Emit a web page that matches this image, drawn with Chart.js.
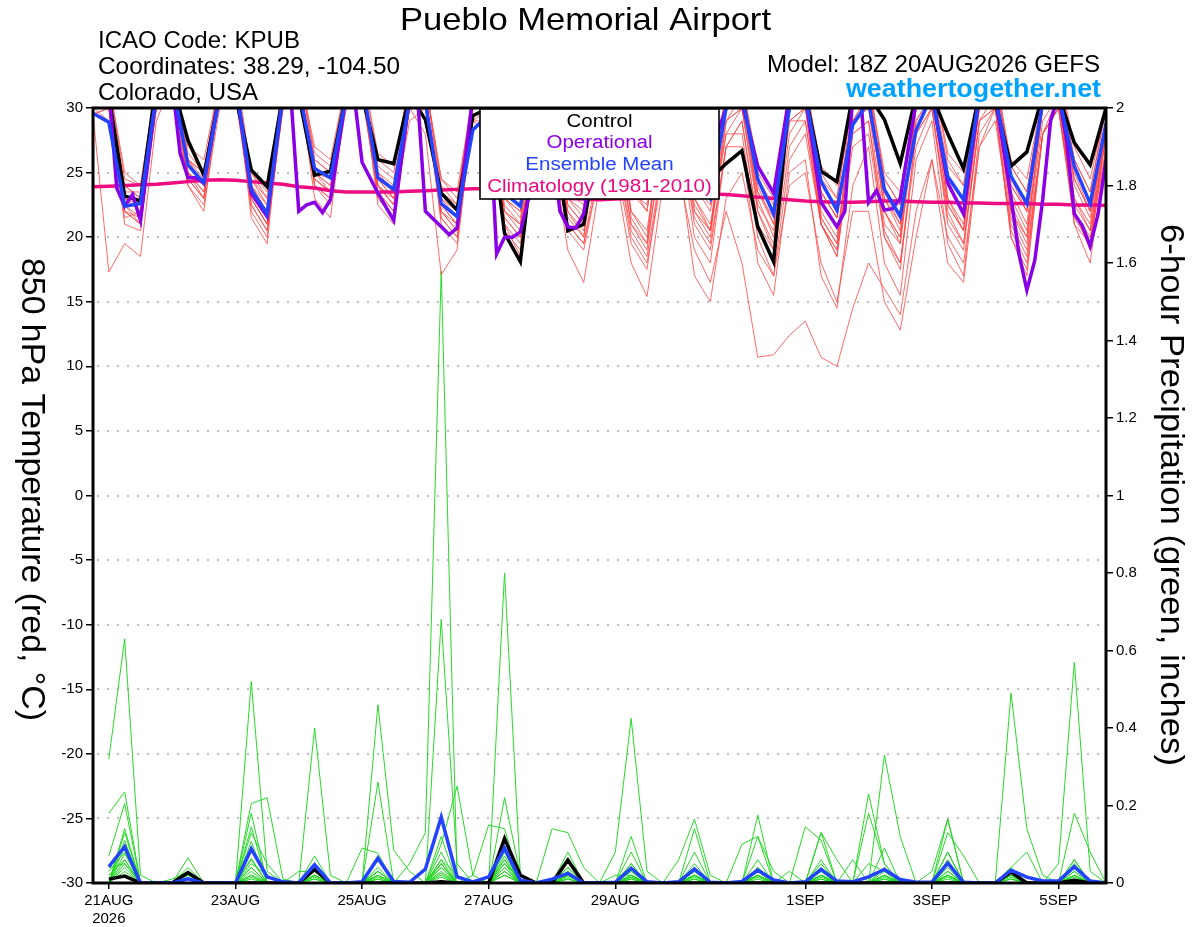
<!DOCTYPE html>
<html><head><meta charset="utf-8">
<script src="https://cdn.jsdelivr.net/npm/chart.js@4.4.1/dist/chart.umd.min.js"></script>
<style>html,body{margin:0;padding:0;background:#fff;overflow:hidden}#c{display:block}</style>
</head><body>
<canvas id="c" width="1200" height="927" style="width:1200px;height:927px"></canvas>
<script>
// ---------- axis / tick data ----------
const xTickSteps = [1, 9, 17, 25, 33, 45, 53, 61];           // 6-hour steps from 18Z 20AUG2026
const xTickLabels = [['21AUG', '2026'], '23AUG', '25AUG', '27AUG', '29AUG', '1SEP', '3SEP', '5SEP'];
const tempTicks = [-30, -25, -20, -15, -10, -5, 0, 5, 10, 15, 20, 25, 30];
const gridTemps = [-25, -20, -15, -10, -5, 0, 5, 10, 15, 20, 25];
const precipTicks = [0, 0.2, 0.4, 0.6, 0.8, 1, 1.2, 1.4, 1.6, 1.8, 2];
const precipTickLabels = ['0', '0.2', '0.4', '0.6', '0.8', '1', '1.2', '1.4', '1.6', '1.8', '2'];

// ---------- 850 hPa temperature (°C), 6-hourly, step 0 = 18Z 20AUG ----------
const meanTemp = [29.6, 28.9,22.4,22.6,31, 32,25.6,24.2,31, 32,23.7,21.8,31, 31.5,25.3,24.6,31, 32,24.6,23.7,30.5, 30.5,22.6,21.6,28.3, 29.5,23.4,22.4,29, 30,23.5,23.0,29, 30,24,23.5,29, 30,25,23.0,30, 31,24.5,21.8,30, 31,24.3,22.1,28.7, 30.5,23.7,21.6,28.3, 31,24.7,22.9,31, 31,24.7,22.6,30.5, 31,25.5,22.6,28.8];
const controlTemp = [31, 31,23.2,22.8,32, 32,27.5,24.8,31, 31,25.2,23.9,31, 31,24.8,25.1,31, 31,26.0,25.7,31, 29.1,23.4,22.1,29.4, 30,20.3,18.1,28.5, 29,20.5,21.0,28, 29,24,23.5,28, 27,26,24.5,25.7, 26.7,20.8,18.1,31, 31,25.1,24.3,31, 31,29.1,25.7,31, 31,28.0,25.3,31, 30.5,25.5,26.6,31, 31,27.3,25.6,30];
const opSteps = [0,1,1.5,2,2.5,3,4,5,5.5,6,6.5,7,8,9,10,11,12,12.5,13,13.5,14,14.5,15,16,16.5,17,18,19,20,20.5,21,21.5,22,22.5,23,24,25,25.5,26,26.5,27,27.5,28,29,29.5,30,30.5,31,32,33,34,35,36,37,38,39,40,41,42,43,44,45,46,47,47.5,48,48.5,49,49.5,50,50.5,51,52,53,54,55,56,57,58,58.5,59,59.5,60,60.5,61,61.5,62,62.5,63,63.5,64];
const opTemps = [30.5,31.5,23.8,22.4,23.3,21.3,31,32,26.5,24.6,24.6,24.2,31,32,23.4,21.6,31,31,22.0,22.5,22.7,21.9,22.9,31,31,25.8,23.4,21.3,31,31,22.0,21.4,20.8,20.2,20.7,31,31,18.7,20.0,20.0,20.4,22.9,29,27,22,20.8,20.7,21.8,29,30,27,26,29,30,27,26.5,30,30.5,25.5,23.4,31,31,22.7,20.8,22,31,31,22.7,23.6,22.1,22.2,23,30.5,31,24.2,21.8,31,31,23.1,18.7,15.9,18.2,22.9,29,31,27.6,21.8,20.9,19.3,21.8,26.0];
const climTemp = [23.9, 23.95,24.0,24.05,24.1, 24.2,24.3,24.4,24.45, 24.4,24.3,24.2,24.1, 23.9,23.8,23.6,23.5, 23.5,23.5,23.5,23.55, 23.6,23.65,23.7,23.75, 23.75,23.7,23.6,23.4, 23.2,23.0,22.95,22.9, 22.95,23.0,23.05,23.1, 23.2,23.3,23.35,23.3, 23.2,23.1,23.0,22.9, 22.8,22.75,22.7,22.7, 22.75,22.8,22.8,22.75, 22.7,22.7,22.65,22.65, 22.6,22.6,22.6,22.55, 22.55,22.5,22.5,22.45];

// ensemble members (temperature)
const memT01 = [29.5, 17.3,19.5,18.5,29, 32,24,22,31, 33,22,20,31, 32,23,21.5,31, 32,22.5,21,30, 31,21,19.5,29, 30,20.5,19,28, 29,22,20,29, 31,21.5,19.5,30, 31,23,20.5,31, 32,22,19,30, 31,21.5,19.5,30, 32,22,19.5,30, 33,23,20.5,31, 32,22.5,20,30, 31,22,19,28];
const memT02 = [30.5, 30,21,20.5,31, 33,25,23,31, 32,21.5,19.5,31, 33,24,22.5,31, 32,23,21.5,30, 28,17.1,19,30, 31,21,19.5,30, 30,23,21.5,31, 32,24,22,31, 32,25,23,31, 32,24,21,31, 33,23.5,21.5,31, 32,23,20.5,30, 32,24,22,31, 33,24.5,22,31, 33,25,22,29];
const memT03 = [30, 31,23,22,31, 32,26,24.5,31, 32,24,22,31, 32,25,24,31, 32,24.5,23,30, 31,23,22,30, 30,22,21,27, 26,21,19.5,25, 25,18,15.4,24, 26,17,15,23, 25,19,17,26, 28,21,19,29, 31,22,20,30, 32,23,21,31, 32,23.5,21,31, 32,24,21.5,29];
const memT04 = [30, 30.5,22,21,30, 32,25,23.5,31, 32,23,21,31, 32,24.5,23.5,31, 31,24,22.5,30, 31,22,21,30, 30,23,21.5,29, 29,22,20.5,27, 27,20,18,25, 25,19,16.5,22, 18,10.7,10.9,12.4, 13.5,10.7,10,14.5, 18,16,14,22, 26,20,18,27, 29,21,18.5,28, 30,22,20,28];
const memT05 = [31, 31,24,23,31, 33,26,25,32, 32,24.5,23,31, 33,26,25,31, 32,25,24,31, 32,23.5,22.5,31, 31,24,23,30, 31,24,23,30, 31,24.5,23,30, 30,23,21,28, 28,20,17,24, 25,18,15,22, 22,15,12.8,20, 26,18,16.5,27, 30,20,17.5,28, 31,21,19.5,29];
const memT06 = [31, 32,25,24,32, 33,27,26,32, 33,25,23.5,32, 33,27,26,32, 33,26.5,25.5,32, 32,24.5,23.5,31, 32,25,24,31, 32,25,24.5,31, 32,26,25,31, 32,26,24.5,31, 32,25.5,23.5,31, 32,25.5,24,31, 32,25,23.5,31, 33,26.5,25,32, 32,26,24.5,31, 33,27,24.5,30];
const memT07 = [30, 29,22.5,21.5,30, 32,24.5,23,31, 31,23,21,30, 32,24,23,31, 32,24,22.5,30, 30,22,20.5,30, 31,22,21,30, 30,22.5,21,29, 29,21,19,28, 30,22,20,29, 31,23,20,30, 31,22,20,29, 30,21,19.5,29, 31,22.5,20.5,30, 31,22,20,30, 31,22.5,20.5,28];
const memT08 = [30, 30.5,24,23,31, 32,25.5,24,31, 32,24,22.5,31, 32,25.5,24.5,31, 31,24,23,30, 30,22.5,21.5,29, 28,21.5,20,26, 27,20.5,19,25, 28,21,19.5,27, 29,22,20.5,28, 30,22.5,20.5,29, 29,21,19,27, 28,20,18,27, 30,21.5,19.5,29, 31,22,19.5,29, 31,23,20.5,29];
const memT09 = [30.5, 31,23.5,23.5,31, 33,26.5,25,32, 32,24.5,22.5,31, 33,26,25,32, 32,25.5,24.5,31, 32,24,22.5,31, 31,24,23,31, 31,24.5,23.5,31, 32,25,24,31, 32,25.5,24,31, 32,25,23,31, 32,24.5,23,31, 32,24.5,22.5,31, 32,25.5,24,31, 32,25.5,23.5,31, 32,26,23.5,30];
const memT10 = [29.5, 30,21.5,22,30, 32,25,23.5,31, 31,22.5,20.5,30, 32,24.5,23.5,31, 31,23.5,22,30, 31,21.5,20,30, 30,21,18.5,29, 30,21.5,20,29, 30,22,20,29, 30,22.5,20.5,29, 30,22,19.5,29, 30,21,18.5,28, 29,20,17.5,28, 30,21,19,29, 30,20.5,18,28, 30,21.5,19.5,28];
const memT11 = [30, 31,22.5,21,31, 32,26,24,31, 32,23.5,21.5,31, 32,25,24,31, 32,25,23.5,31, 31,23,21.5,30, 31,23,22,30, 31,23.5,22.5,30, 31,23.5,22,30, 31,24,22.5,30, 31,23.5,21.5,30, 31,23.5,21.5,30, 31,23.5,21,30, 31,24,22,30, 31,24,22,30, 32,24.5,22,29];
const memT12 = [30.5, 31,23,22,31, 32,25,24,31, 32,23,21,31, 32,25,23.5,31, 32,24.5,23,30, 31,22.5,21,30, 30,22,20.5,28, 27,19,16.5,24, 26,19.5,17.5,26, 28,20,18,27, 29,21,19,28, 30,21.5,19.5,29, 31,22,20,30, 31,22.5,20.5,30, 31,23,20.5,30, 31,23,21,29];
const memT13 = [30, 30,22,21.5,30, 32,24.5,23,31, 32,23.5,22,31, 32,24.5,23.5,31, 32,24,22.5,30, 31,22,20.5,30, 30,22.5,21,29, 30,22.5,21,29, 30,22,20.5,29, 29,21,19,27, 27,18,15.5,25, 26,17,14.5,24, 27,18,15.5,26, 29,19.5,17,28, 30,20,17,28, 30,21,18,27];
const memT14 = [31, 32,24.5,24,32, 33,26,25,32, 33,25,23,32, 33,26.5,25.5,32, 33,26,25,32, 32,24.5,23,31, 32,24.5,23.5,31, 32,25,24,31, 32,25.5,24.5,31, 32,25,23.5,31, 32,24.5,22.5,31, 32,25,23,31, 32,24.5,22.5,31, 33,26,24,32, 33,25.5,23.5,31, 33,26,23.5,30];
const memT15 = [30, 30.5,23,22.5,31, 32,25.5,24,31, 32,23.5,21.5,31, 32,25,24.5,31, 32,24.5,23.5,30, 31,22.5,21,30, 30,23,22,29, 30,23,22,29, 30,23.5,22.5,29, 30,24,22,29, 30,23.5,21,29, 30,23.5,21.5,29, 30,23,21,29, 31,24,22,30, 31,24,22,30, 31,24.5,22,28];
const memT16 = [29.5, 30,22,21,30, 31,24,22.5,30, 31,22.5,20.5,30, 31,24,23,30, 31,23.5,22,29, 30,21.5,20,29, 29,21.5,20,27, 27,21,19.5,26, 27,20.5,18.5,26, 28,21.5,19.5,27, 29,21,18,27, 29,21,18.5,28, 29,20.5,18,28, 30,22,19.5,29, 30,21.5,19,28, 30,22,19.5,27];

// ---------- 6-hour precipitation (inches) ----------
const meanPrecip = [null, .042,.094,0,0, 0,.011,0,0, 0,.088,.016,.003, 0,.047,0,0, .003,.064,.004,.002, .036,.17,.016,.003, .016,.09,.007,0, .01,.025,0,0, .002,.038,.003,0, .003,.036,.002,0, .004,.033,.008,0, .003,.035,.005,.003, .016,.035,.009,.002, .002,.051,.002,0, 0,.033,.015,.005, .005,.042,.005,0];
const controlPrecip = [null, .01,.018,0,0, 0,.027,0,0, 0,0,0,0, 0,.035,0,0, 0,0,0,0, 0,.003,0,0, 0,.115,.02,0, 0,.059,0,0, 0,0,0,0, 0,0,0,0, 0,0,0,0, 0,0,0,0, 0,0,0,0, 0,0,0,0, 0,.028,0,0, 0,.007,0,0];
const memP01 = [null, .02,.06,0,0, 0,0,0,0, 0,.04,0,0, 0,.03,0,0, 0,.06,0,.05, .13,1.58,.02,0, 0,.06,0,0, 0,.04,0,0, 0,.05,0,0, 0,.08,0,0, 0,.06,0,0, 0,.04,0,0, 0,.09,0,0, 0,.08,0,0, 0,.04,0,0, 0,.06,0,0];
const memP02 = [null, .32,.63,.02,0, 0,.02,0,0, 0,.13,.05,0, 0,.05,0,0, 0,.26,0,0, 0,.68,.05,0, 0,.22,.02,0, 0,.08,0,0, 0,.12,0,0, 0,.14,0,0, 0,.12,0,0, 0,.13,0,0, .23,.05,0,0, 0,.165,0,0, 0,.03,0,0, 0,.18,.08,0];
const memP03 = [null, .18,.235,0,0, 0,.065,0,0, 0,.52,.03,0, 0,.02,0,0, 0,.03,0,0, 0,.05,0,0, 0,.80,.02,0, 0,.02,0,0, 0,.05,0,0, 0,.02,0,0, 0,.03,0,0, 0,.02,0,0, 0,.01,0,0, 0,.02,0,0, 0,.02,0,0, 0,.04,0,0];
const memP04 = [null, .07,.205,0,0, 0,.04,0,0, 0,.205,.22,.01, 0,.40,.02,0, 0,.46,.085,.03, 0,.12,0,0, 0,.08,0,0, .14,.13,.04,0, 0,.08,0,0, 0,.02,0,0, 0,.02,0,0, 0,.13,.06,0, .18,.05,0,0, 0,.02,0,0, 0,.02,0,0, 0,.06,0,0];
const memP05 = [null, 0,.14,0,0, 0,.02,0,0, 0,.18,0,0, 0,.07,0,0, .09,.077,0,0, 0,.10,.25,.02, 0,.04,0,0, 0,.06,0,0, .08,.425,.03,0, 0,.02,0,0, 0,.04,0,0, 0,.02,0,0, 0,.33,.12,0, 0,.02,0,0, 0,.02,0,0, 0,.02,0,0];
const memP06 = [null, 0,.13,0,0, 0,0,0,0, 0,.145,0,0, .03,.03,0,0, 0,.06,0,0, 0,.08,0,.02, .15,.14,0,0, 0,.04,0,0, 0,.02,0,0, .06,.165,.02,0, 0,.02,0,0, .145,.11,0,.06, 0,0,0,0, 0,.13,.07,0, 0,.49,.14,.02, 0,.04,0,0];
const memP07 = [null, 0,.11,0,0, 0,0,0,0, 0,.107,0,0, 0,.02,0,0, 0,.03,0,0, 0,.06,0,0, 0,.06,0,0, 0,.02,0,0, 0,.02,0,0, 0,.04,0,0, .10,.12,.03,0, 0,.05,0,0, 0,.04,0,0, 0,.08,0,0, 0,.04,.08,0, .05,.57,.03,0];
const memP08 = [null, 0,.094,0,0, 0,0,0,0, 0,.064,0,0, 0,.02,0,0, 0,.03,0,0, 0,.05,0,0, 0,.05,0,0, 0,.02,0,0, 0,.04,0,0, 0,.03,0,0, 0,.175,0,.03, 0,.03,0,0, .05,.03,0,0, .03,.165,0,0, 0,.03,0,0, 0,.04,0,0];
const memP09 = [null, 0,.076,0,0, 0,0,0,0, 0,.04,0,0, 0,.01,0,0, 0,.02,0,0, 0,.04,0,0, 0,.04,0,0, 0,.02,0,0, 0,.03,0,0, 0,.02,0,0, 0,.02,0,0, 0,.03,0,0, 0,.02,0,0, 0,.04,0,0, 0,.02,0,0, 0,.03,0,0];
const memP10 = [null, 0,.06,0,0, 0,0,0,0, 0,.03,0,0, 0,0,0,0, 0,.02,0,0, 0,.04,0,0, 0,.03,0,0, 0,.01,0,0, .02,.02,0,0, 0,.02,0,0, 0,.02,0,0, 0,.02,0,0, 0,.02,0,0, 0,.03,0,0, 0,.01,0,0, 0,.02,0,0];
const memP11 = [null, .04,.05,0,0, 0,.02,0,0, 0,.02,0,0, 0,.01,0,0, 0,.015,0,0, 0,.03,0,0, 0,.03,0,0, 0,.02,0,0, 0,.01,0,0, 0,.015,0,0, 0,.01,0,0, 0,.02,0,0, 0,.015,0,0, 0,.02,0,0, 0,0,0,0, 0,.015,0,0];
const memP12 = [null, 0,.04,0,0, 0,0,0,0, 0,.015,0,0, 0,0,0,0, 0,.01,0,0, 0,.025,0,0, 0,.02,0,0, 0,0,0,0, 0,.01,0,0, 0,.01,0,0, 0,0,0,0, 0,.01,0,0, 0,0,0,0, 0,.01,0,0, 0,0,0,0, 0,.01,0,0];
const memP13 = [null, 0,.03,0,0, .01,.03,0,0, 0,.02,0,0, 0,.015,0,0, 0,0,0,0, 0,.02,0,0, 0,.05,.01,0, 0,.03,0,0, 0,.015,0,0, 0,.03,0,0, 0,.02,0,0, 0,.015,0,0, 0,.02,0,0, 0,.03,0,0, 0,.01,0,0, 0,.02,0,0];
const memP14 = [null, .01,.02,0,0, 0,0,0,0, 0,.01,0,0, 0,0,0,0, 0,.01,0,0, 0,.015,0,0, 0,.02,0,0, 0,.01,0,0, 0,.02,0,0, 0,.01,0,0, 0,.015,0,0, 0,.01,0,0, 0,.01,0,0, 0,.015,0,0, 0,0,0,0, 0,.01,0,0];
const memP15 = [null, .03,.08,0,0, 0,.03,0,0, 0,.06,0,0, 0,.03,0,0, 0,.04,0,0, 0,.06,.02,0, 0,.04,0,0, 0,.03,0,0, 0,.03,0,0, 0,.05,0,0, 0,.03,0,0, 0,.06,0,0, 0,.04,0,0, 0,.05,0,0, 0,.03,0,0, 0,.05,0,0];
const memP16 = [null, 0,.05,0,0, 0,.01,0,0, 0,.05,.02,0, 0,.02,0,0, 0,.02,0,0, 0,.05,0,0, 0,.07,0,0, 0,.015,0,0, 0,.015,0,0, 0,.03,0,0, 0,.04,0,0, 0,.02,0,0, 0,.03,0,0, 0,.06,0,0, 0,.015,0,0, 0,.03,0,0];

const redMembers = [memT01, memT02, memT03, memT04, memT05, memT06, memT07, memT08, memT09, memT10, memT11, memT12, memT13, memT14, memT15, memT16];
const greenMembers = [memP01, memP02, memP03, memP04, memP05, memP06, memP07, memP08, memP09, memP10, memP11, memP12, memP13, memP14, memP15, memP16];

// ---------- styles ----------
const FONT = '"Liberation Sans", Arial, Helvetica, sans-serif';
const C_RED = 'rgba(255,70,70,0.8)', C_GREEN = 'rgba(30,215,30,0.95)';
const C_CTRL = '#000000', C_OP = '#8a00e6', C_MEAN = '#2343ff', C_CLIM = '#ee0a80';

const toPts = arr => arr.map((v, i) => ({ x: i, y: v }));
const line = (data, yAxisID, color, width, order) => ({
  data, yAxisID, borderColor: color, borderWidth: width, order,
  pointRadius: 0, tension: 0, fill: false, clip: 0, spanGaps: false
});

const datasets = [];
redMembers.forEach(m => datasets.push(line(toPts(m), 'y', C_RED, 1, 10)));
greenMembers.forEach(m => datasets.push(line(toPts(m), 'y2', C_GREEN, 1, 11)));
datasets.push(line(toPts(controlPrecip), 'y2', C_CTRL, 3.5, 6));
datasets.push(line(toPts(meanPrecip), 'y2', C_MEAN, 3.5, 5));
datasets.push(line(toPts(climTemp), 'y', C_CLIM, 3.5, 4));
datasets.push(line(toPts(controlTemp), 'y', C_CTRL, 3.5, 3));
datasets.push(line(opSteps.map((s, k) => ({ x: s, y: opTemps[k] })), 'y', C_OP, 3.5, 2));
datasets.push(line(toPts(meanTemp), 'y', C_MEAN, 3.5, 1));

function fitText(ctx, text, x, y, size, opt) {
  ctx.save();
  ctx.font = (opt.weight || 'normal') + ' ' + size + 'px ' + FONT;
  const w = ctx.measureText(text).width;
  const sx = opt.width ? opt.width / w : (opt.sx || 1);
  ctx.translate(x, y);
  if (opt.rot) ctx.rotate(opt.rot);
  ctx.scale(sx, 1);
  ctx.fillStyle = opt.color || '#000';
  ctx.textAlign = opt.align || 'left';
  ctx.textBaseline = 'alphabetic';
  ctx.fillText(text, 0, 0);
  ctx.restore();
}

const decor = {
  id: 'decor',
  beforeDatasetsDraw(chart) {
    const { ctx, chartArea: a, scales } = chart;
    ctx.save();
    ctx.strokeStyle = '#a8a8a8';
    ctx.lineWidth = 1.5;
    ctx.setLineDash([2, 8]);
    gridTemps.forEach(v => {
      const py = Math.round(scales.y.getPixelForValue(v));
      ctx.beginPath(); ctx.moveTo(a.left + 4, py); ctx.lineTo(a.right, py); ctx.stroke();
    });
    ctx.restore();
  },
  afterDatasetsDraw(chart) {
    const { ctx, chartArea: a } = chart;
    ctx.save();
    ctx.strokeStyle = '#000'; ctx.lineWidth = 3;
    ctx.strokeRect(a.left, a.top, a.right - a.left, a.bottom - a.top);
    ctx.fillStyle = '#fff';
    ctx.fillRect(480, 109, 239, 90);
    ctx.lineWidth = 1.6;
    ctx.strokeRect(480, 109, 239, 90);
    ctx.restore();
    const lx = 599.5, ls = 1.14;
    fitText(ctx, 'Control', lx, 127, 18, { align: 'center', sx: ls, color: C_CTRL });
    fitText(ctx, 'Operational', lx, 148, 18, { align: 'center', sx: ls, color: C_OP });
    fitText(ctx, 'Ensemble Mean', lx, 169.5, 18, { align: 'center', sx: ls, color: C_MEAN });
    fitText(ctx, 'Climatology (1981-2010)', lx, 191.5, 18, { align: 'center', sx: ls, color: C_CLIM });
  },
  afterDraw(chart) {
    const ctx = chart.ctx;
    fitText(ctx, 'Pueblo Memorial Airport', 585.5, 30, 32, { align: 'center', width: 371 });
    fitText(ctx, 'ICAO Code: KPUB', 98, 48, 24, { width: 202 });
    fitText(ctx, 'Coordinates: 38.29, -104.50', 98, 74, 24, { width: 302 });
    fitText(ctx, 'Colorado, USA', 98, 100, 24, { width: 160 });
    fitText(ctx, 'Model: 18Z 20AUG2026 GEFS', 1100, 72, 24, { align: 'right', width: 333 });
    fitText(ctx, 'weathertogether.net', 1101, 97, 26, { align: 'right', width: 255, weight: 'bold', color: '#00a2ff' });
    fitText(ctx, '850 hPa Temperature (red, \u00B0C)', 22, 489.5, 33, { align: 'center', width: 463, rot: Math.PI / 2 });
    fitText(ctx, '6-hour Precipitation (green, inches)', 1161, 495, 33, { align: 'center', width: 542, rot: Math.PI / 2 });
  }
};

const tickFont = { family: FONT, size: 15 };
new Chart(document.getElementById('c'), {
  type: 'line',
  data: { datasets },
  plugins: [decor],
  options: {
    responsive: false, devicePixelRatio: 1, animation: false,
    layout: { padding: { top: 108, left: 0, right: 0, bottom: 0 } },
    plugins: { legend: { display: false }, tooltip: { enabled: false }, title: { display: false } },
    scales: {
      x: {
        type: 'linear', min: 0, max: 64,
        afterBuildTicks: s => { s.ticks = xTickSteps.map(v => ({ value: v })); },
        afterFit: s => { s.height = 44; },
        ticks: { autoSkip: false, maxRotation: 0, minRotation: 0, padding: 3, color: '#000', font: tickFont,
                 callback: (v, i) => xTickLabels[i] },
        grid: { drawOnChartArea: false, drawTicks: true, tickLength: 6, color: '#000', lineWidth: 1.5 },
        border: { display: false }
      },
      y: {
        type: 'linear', position: 'left', min: -30, max: 30,
        afterBuildTicks: s => { s.ticks = tempTicks.map(v => ({ value: v })); },
        afterFit: s => { s.width = 93; },
        ticks: { autoSkip: false, padding: 3, color: '#000', font: tickFont, callback: v => String(v) },
        grid: { drawOnChartArea: false, drawTicks: true, tickLength: 7, color: '#000', lineWidth: 1.5 },
        border: { display: false }
      },
      y2: {
        type: 'linear', position: 'right', min: 0, max: 2,
        afterBuildTicks: s => { s.ticks = precipTicks.map(v => ({ value: v })); },
        afterFit: s => { s.width = 94; },
        ticks: { autoSkip: false, padding: 3, color: '#000', font: tickFont, callback: (v, i) => precipTickLabels[i] },
        grid: { drawOnChartArea: false, drawTicks: true, tickLength: 7, color: '#000', lineWidth: 1.5 },
        border: { display: false }
      }
    }
  }
});
</script>
</body></html>
